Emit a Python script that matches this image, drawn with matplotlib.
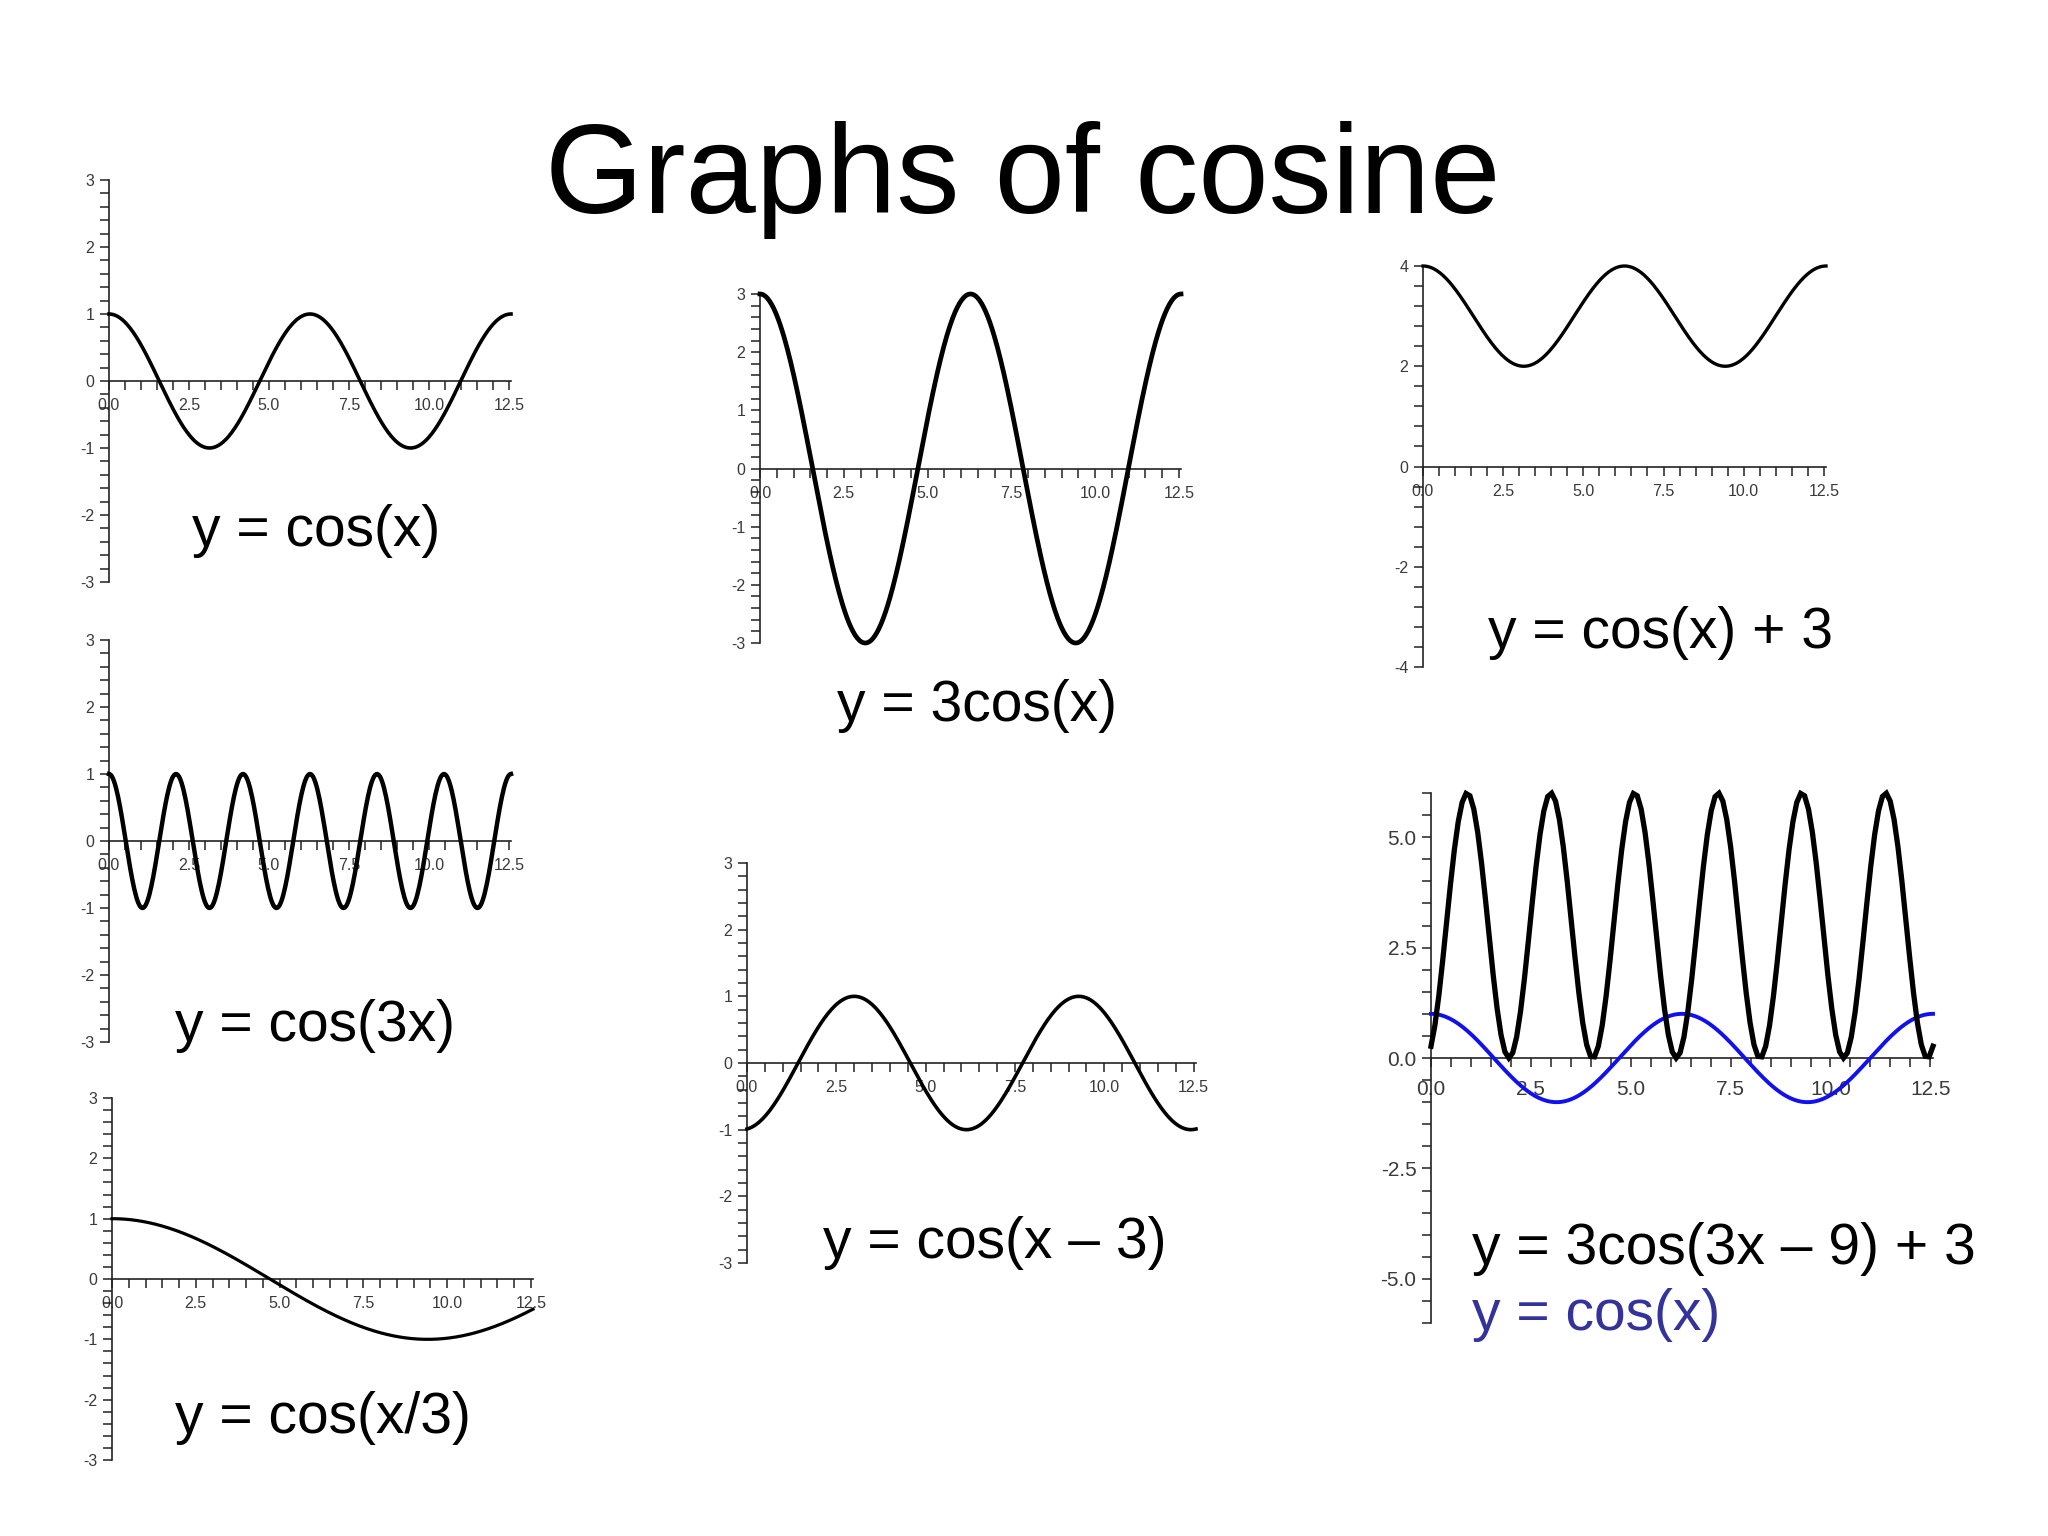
"""
Graphs of cosine - seven small transformed cosine plots on one slide.
"""
import numpy as np
import matplotlib
matplotlib.use("Agg")
import matplotlib.pyplot as plt
from matplotlib.ticker import MultipleLocator, FormatStrFormatter

plt.rcParams['font.family'] = ['Liberation Sans', 'DejaVu Sans']
plt.rcParams['axes.unicode_minus'] = False

# Data: y = A*cos(B*x - C) + D
labels = ["y = cos(x)", "y = 3cos(x)", "y = cos(x) + 3", "y = cos(3x)",
          "y = 3cos(3x \u2013 9) + 3", "y = cos(x \u2013 3)", "y = cos(x/3)"]
amplitude = [1, 3, 1, 1, 3, 1, 1]
frequency = [1, 1, 1, 3, 3, 1, 1 / 3]
phase = [0, 0, 0, 0, 9, 3, 0]
offset = [0, 0, 3, 0, 3, 0, 0]
n_samples = [400, 400, 400, 400, 130, 400, 400]
x_max = 4 * np.pi

# overlay in the last panel: the plain y = cos(x)
overlay_label = "y = cos(x)"

# Layout (pixels on the 2048x1536 slide): axes box, y range, y tick steps,
# caption anchor, curve width, tick label size
W, H = 2048, 1536
boxes = [(109, 180, 511, 582), (760, 294, 1181, 643), (1423, 266, 1826, 667),
         (109, 640, 511, 1042), (1431, 793, 1933, 1323), (747, 863, 1196, 1263),
         (112, 1098, 533, 1460)]
y_limits = [3, 3, 4, 3, 6, 3, 3]
y_major = [1, 1, 2, 1, 2.5, 1, 1]
y_minor = [0.2, 0.2, 0.4, 0.2, 0.5, 0.2, 0.2]
y_fmt = ['%d', '%d', '%d', '%d', '%.1f', '%d', '%d']
caption_xy = [(192, 546), (837, 721), (1488, 648), (175, 1041), (1472, 1264),
              (823, 1258), (175, 1433)]
line_w = [2.6, 3.4, 2.4, 3.2, 3.8, 2.6, 2.3]
tick_size = [11.5, 11.5, 11.5, 11.5, 15, 11.5, 11.5]
x_pad = [6, 6, 6, 6, 9, 6, 6]

fig = plt.figure(figsize=(W / 100, H / 100), dpi=100)
fig.patch.set_facecolor('white')

fig.text(1023 / W, 1 - 213 / H, "Graphs of cosine", ha='center', va='baseline',
         fontsize=91, color='black')

for i in range(len(labels)):
    x0, y0, x1, y1 = boxes[i]
    ax = fig.add_axes([x0 / W, 1 - y1 / H, (x1 - x0) / W, (y1 - y0) / H])
    ax.set_xlim(0, x_max)
    ax.set_ylim(-y_limits[i], y_limits[i])
    ax.patch.set_alpha(0)

    for side in ['top', 'right']:
        ax.spines[side].set_visible(False)
    ax.spines['left'].set_position(('data', 0))
    ax.spines['bottom'].set_position(('data', 0))
    for side in ['left', 'bottom']:
        ax.spines[side].set_linewidth(1.2)
        ax.spines[side].set_color('#222222')

    ax.xaxis.set_major_locator(MultipleLocator(2.5))
    ax.xaxis.set_minor_locator(MultipleLocator(0.5))
    ax.xaxis.set_major_formatter(FormatStrFormatter('%.1f'))
    ax.yaxis.set_major_locator(MultipleLocator(y_major[i]))
    ax.yaxis.set_minor_locator(MultipleLocator(y_minor[i]))
    ax.yaxis.set_major_formatter(FormatStrFormatter(y_fmt[i]))
    ax.tick_params(which='both', direction='out', length=6.5, width=1.1,
                   color='#222222', labelsize=tick_size[i], labelcolor='#3a3a3a')
    ax.tick_params(axis='x', which='major', pad=x_pad[i])
    ax.tick_params(axis='y', which='major', pad=4)

    x = np.linspace(0, x_max, n_samples[i])
    y = amplitude[i] * np.cos(frequency[i] * x - phase[i]) + offset[i]
    if i == 4:
        xb = np.linspace(0, x_max, 400)
        ax.plot(xb, amplitude[0] * np.cos(frequency[0] * xb - phase[0]) + offset[0],
                color='#1010f0', lw=2.8, zorder=3, clip_on=False)
    ax.plot(x, y, color='black', lw=line_w[i], zorder=4, clip_on=False,
            solid_joinstyle='miter' if i == 4 else 'round')

    cx, cy = caption_xy[i]
    fig.text(cx / W, 1 - cy / H, labels[i], ha='left', va='baseline',
             fontsize=41, color='black')

fig.text(1472 / W, 1 - 1330 / H, overlay_label, ha='left', va='baseline',
         fontsize=41, color='#333399')

fig.savefig('out.png', dpi=100, facecolor='white')
